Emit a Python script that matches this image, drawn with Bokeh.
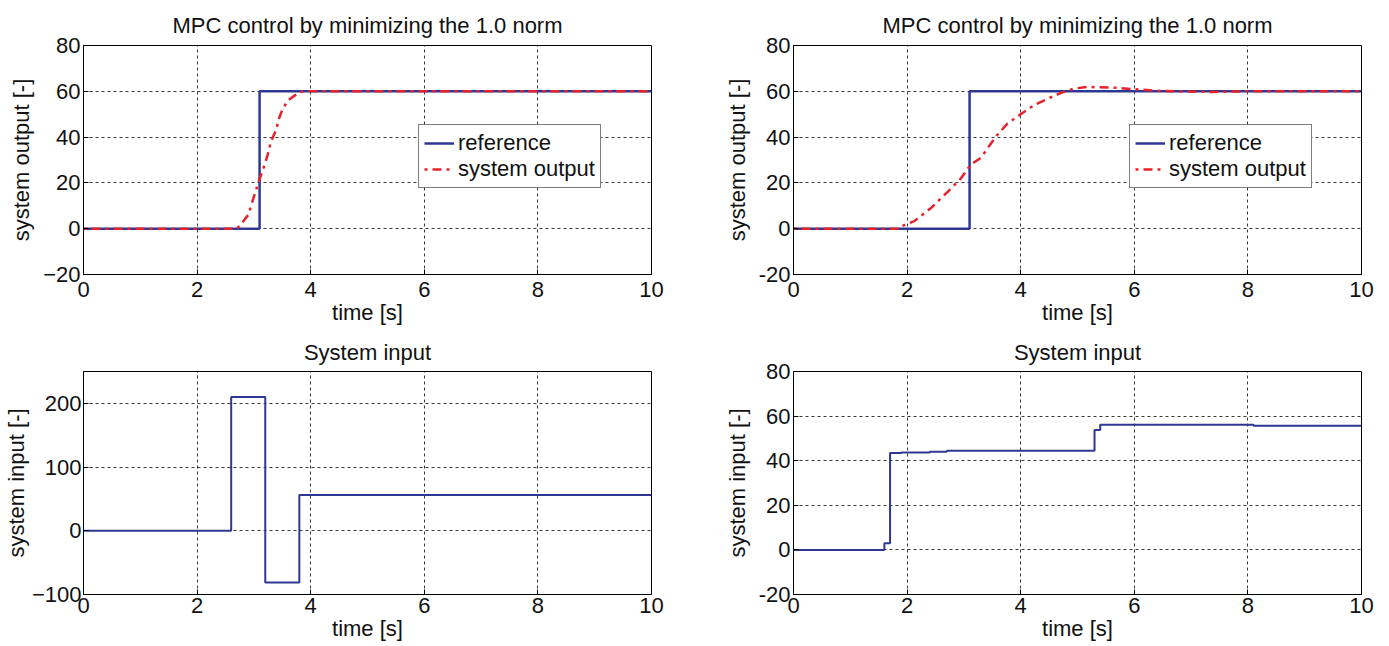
from bokeh.plotting import figure
from bokeh.layouts import column, row
from bokeh.models import Range1d, FixedTicker, Legend, LegendItem
from bokeh.embed import file_html
from bokeh.resources import INLINE

# ---- data ----
ref_t = [0, 3.1, 10]
ref_y = [0, 60, 60]

out1_t = [0, 2.70, 2.74, 2.90, 3.00, 3.09, 3.19, 3.24, 3.30, 3.39, 3.44, 3.50, 3.60, 3.71, 3.81, 3.90, 10]
out1_y = [0, 0, 1, 6, 14, 21, 28, 32, 38, 43, 48, 52, 56, 58, 59.7, 60, 60]

out2_t = [0, 1.85, 1.89, 2.12, 2.42, 2.71, 2.95, 3.12, 3.30, 3.47, 3.59, 3.77, 4.00, 4.24, 4.48,
          4.71, 4.94, 5.18, 5.65, 6.0, 6.5, 7.35, 8.0, 10]
out2_y = [0, 0, 1, 3.2, 9, 16, 22, 28, 31, 37, 41, 46, 50, 54, 56.8,
          59.3, 61.2, 61.9, 61.6, 60.9, 60.1, 59.7, 60, 60]

in1_t = [0, 2.6, 3.2, 3.8, 10]
in1_u = [0, 210, -81, 56, 56]

in2_t = [0, 1.6, 1.7, 1.9, 2.4, 2.7, 5.3, 5.4, 8.1, 10]
in2_u = [0, 3, 43.4, 43.7, 44.0, 44.5, 53.8, 56.1, 55.7, 55.7]

x_ticks = [0, 2, 4, 6, 8, 10]
y_ticks_out = [-20, 0, 20, 40, 60, 80]
y_ticks_in1 = [-100, 0, 100, 200]
y_ticks_in2 = [-20, 0, 20, 40, 60, 80]

title_top = "MPC control by minimizing the 1.0 norm"
title_bottom = "System input"
xlabel = "time [s]"
ylabel_out = "system output [-]"
ylabel_in = "system input [-]"
legend_labels = ["reference", "system output"]

BLUE = "#2e3894"
RED = "#e8222a"
FONT = "Liberation Sans"
FS = "22px"


def make_fig(width, height, bl, br, bt, bb, yr, yticks, title, ylabel, minus,
             title_standoff=15, x_std=7, y_lbl_std=6, y_tick_std=3):
    p = figure(width=width, height=height, output_backend="svg", toolbar_location=None,
               x_range=Range1d(0, 10), y_range=Range1d(*yr),
               min_border_left=bl, min_border_right=br, min_border_top=bt, min_border_bottom=bb)
    p.title.text = title
    p.title.align = "center"
    p.title.text_font = FONT
    p.title.text_font_size = FS
    p.title.text_font_style = "normal"
    p.title.text_color = "#111111"
    p.title.standoff = title_standoff
    p.outline_line_color = "black"
    p.outline_line_width = 1
    p.outline_line_alpha = 1
    p.xaxis.ticker = FixedTicker(ticks=x_ticks)
    p.yaxis.ticker = FixedTicker(ticks=yticks)
    overrides = {}
    for v in yticks:
        if v < 0:
            overrides[v] = (minus + str(abs(v)))
    p.yaxis.major_label_overrides = overrides
    for ax in (p.xaxis[0], p.yaxis[0]):
        ax.major_label_text_font = FONT
        ax.major_label_text_font_size = FS
        ax.major_label_text_color = "#111111"
        ax.axis_label_text_font = FONT
        ax.axis_label_text_font_size = FS
        ax.axis_label_text_font_style = "normal"
        ax.axis_label_text_color = "#111111"
        ax.major_tick_in = 5
        ax.major_tick_out = 0
        ax.minor_tick_line_color = None
        ax.axis_line_color = "black"
        ax.major_tick_line_color = "black"
    p.xaxis.major_label_standoff = x_std
    p.yaxis.major_label_standoff = y_tick_std
    p.xaxis.axis_label = xlabel
    p.xaxis.axis_label_standoff = 0
    p.yaxis.axis_label = ylabel
    p.yaxis.axis_label_standoff = y_lbl_std
    for g in (p.xgrid[0], p.ygrid[0]):
        g.grid_line_color = "#222222"
        g.grid_line_dash = "3 3"
        g.grid_line_width = 1
        g.grid_line_alpha = 0.9
    return p


W1, W2 = 705, 676
H1, H2 = 330, 316

p1 = make_fig(W1, H1, 83, 54, 45, 56, (-20, 80), y_ticks_out, title_top, ylabel_out, "\u2212")
r1 = p1.step(ref_t, ref_y, mode="after", line_color=BLUE, line_width=2.5)
o1 = p1.line(out1_t, out1_y, line_color=RED, line_width=2.5, line_dash="3 5 9 5")

p2 = make_fig(W2, H1, 88, 20, 45, 56, (-20, 80), y_ticks_out, title_top, ylabel_out, "-")
r2 = p2.step(ref_t, ref_y, mode="after", line_color=BLUE, line_width=2.5)
o2 = p2.line(out2_t, out2_y, line_color=RED, line_width=2.5, line_dash="3 5 9 5")

for p, r, o, loc in ((p1, r1, o1, (335, 86)), (p2, r2, o2, (336, 86))):
    leg = Legend(items=[LegendItem(label=legend_labels[0], renderers=[r]),
                        LegendItem(label=legend_labels[1], renderers=[o])],
                 location=loc)
    leg.label_text_font = FONT
    leg.label_text_font_size = FS
    leg.label_text_color = "#111111"
    leg.border_line_color = "black"
    leg.border_line_width = 1.5
    leg.background_fill_color = "white"
    leg.background_fill_alpha = 1
    leg.glyph_width = 30
    leg.glyph_height = 22
    leg.label_height = 22
    leg.label_standoff = 4
    leg.padding = 5
    leg.spacing = 0
    leg.margin = 0
    p.add_layout(leg, "center")

p3 = make_fig(W1, H2, 83, 54, 41, 52, (-100, 250), y_ticks_in1, title_bottom, ylabel_in, "\u2212",
              title_standoff=13, x_std=3, y_lbl_std=0, y_tick_std=2)
p3.step(in1_t, in1_u, mode="after", line_color=BLUE, line_width=2)

p4 = make_fig(W2, H2, 88, 20, 41, 52, (-20, 80), y_ticks_in2, title_bottom, ylabel_in, "-",
              title_standoff=13, x_std=3)
p4.step(in2_t, in2_u, mode="after", line_color=BLUE, line_width=2)

layout = column(row(p1, p2), row(p3, p4))
open("out.html", "w").write(file_html(layout, INLINE))
